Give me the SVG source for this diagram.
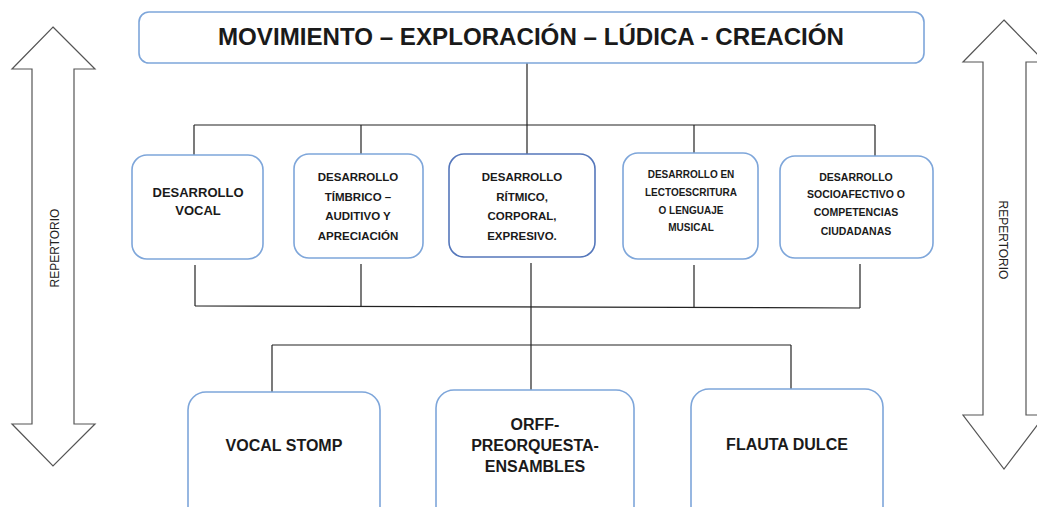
<svg xmlns="http://www.w3.org/2000/svg" width="1037" height="507" viewBox="0 0 1037 507">
<style>
.box{fill:#fff;stroke:#7ea6da;stroke-width:1.6}
.box3{fill:#fff;stroke:#5577bb;stroke-width:1.6}
.arrow{fill:#fff;stroke:#555;stroke-width:1.2}
.t{font-family:"Liberation Sans",Arial,sans-serif;font-weight:bold;fill:#1a1a1a;text-anchor:middle}
.rep{font-family:"Liberation Sans",Arial,sans-serif;font-size:12px;fill:#222;text-anchor:middle}
.con line{stroke:#222;stroke-width:1.2}
</style>
<rect width="1037" height="507" fill="#fff"/>
<g id="arrow-left">
<polygon class="arrow" points="53,27 95,69 74,69 74,424 95,424 53,466 12,424 32,424 32,69 12,69"/>
<text class="rep" transform="translate(59,248) rotate(-90)">REPERTORIO</text>
</g>
<g id="arrow-right">
<polygon class="arrow" points="1004,20 1045,62 1026,62 1026,415 1045,415 1004,469 963,415 983,415 983,62 963,62"/>
<text class="rep" transform="translate(999,240) rotate(90)">REPERTORIO</text>
</g>
<g class="con" id="connectors">
<line x1="527" y1="62" x2="527" y2="125"/>
<line x1="194" y1="125" x2="875" y2="125"/>
<line x1="194" y1="125" x2="194" y2="155"/>
<line x1="361" y1="125" x2="361" y2="155"/>
<line x1="527" y1="125" x2="527" y2="154"/>
<line x1="694" y1="125" x2="694" y2="154"/>
<line x1="875" y1="125" x2="875" y2="156"/>
<line x1="195" y1="265" x2="195" y2="306"/>
<line x1="361" y1="264" x2="361" y2="306"/>
<line x1="531" y1="263" x2="531" y2="392"/>
<line x1="694" y1="265" x2="694" y2="307"/>
<line x1="860" y1="264" x2="860" y2="308"/>
<line x1="195" y1="306" x2="860" y2="308"/>
<line x1="272" y1="345" x2="791" y2="345"/>
<line x1="272" y1="345" x2="272" y2="392"/>
<line x1="791" y1="345" x2="791" y2="390"/>
</g>
<g id="top">
<rect class="box" x="139" y="12" width="785" height="51" rx="10"/>
<text class="t" x="531" y="45" font-size="23" textLength="626" lengthAdjust="spacingAndGlyphs">MOVIMIENTO – EXPLORACIÓN – LÚDICA - CREACIÓN</text>
</g>
<g id="vocal">
<rect class="box" x="132" y="155" width="131" height="104" rx="15"/>
<text class="t" font-size="13" x="198" y="197">DESARROLLO</text>
<text class="t" font-size="13" x="198" y="215">VOCAL</text>
</g>
<g id="timbrico">
<rect class="box" x="294" y="154" width="129" height="104" rx="15"/>
<text class="t" font-size="11.5" x="358" y="181">DESARROLLO</text>
<text class="t" font-size="11.5" x="358" y="201">TÍMBRICO –</text>
<text class="t" font-size="11.5" x="358" y="220">AUDITIVO Y</text>
<text class="t" font-size="11.5" x="358" y="240">APRECIACIÓN</text>
</g>
<g id="ritmico">
<rect class="box3" x="449" y="154" width="146" height="103" rx="15"/>
<text class="t" font-size="11.5" x="522" y="181">DESARROLLO</text>
<text class="t" font-size="11.5" x="522" y="201">RÍTMICO,</text>
<text class="t" font-size="11.5" x="522" y="220">CORPORAL,</text>
<text class="t" font-size="11.5" x="522" y="240">EXPRESIVO.</text>
</g>
<g id="lectoescritura">
<rect class="box" x="623" y="153" width="135" height="106" rx="15"/>
<text class="t" font-size="10" x="691" y="178">DESARROLLO EN</text>
<text class="t" font-size="10" x="691" y="196">LECTOESCRITURA</text>
<text class="t" font-size="10" x="691" y="214">O LENGUAJE</text>
<text class="t" font-size="10" x="691" y="231">MUSICAL</text>
</g>
<g id="socioafectivo">
<rect class="box" x="780" y="156" width="153" height="102" rx="15"/>
<text class="t" font-size="10.5" x="856" y="181">DESARROLLO</text>
<text class="t" font-size="10.5" x="856" y="198">SOCIOAFECTIVO O</text>
<text class="t" font-size="10.5" x="856" y="216">COMPETENCIAS</text>
<text class="t" font-size="10.5" x="856" y="235">CIUDADANAS</text>
</g>
<g id="vocal-stomp">
<rect class="box" x="188" y="392" width="192" height="135" rx="18"/>
<text class="t" font-size="16" x="284" y="451">VOCAL STOMP</text>
</g>
<g id="orff">
<rect class="box" x="436" y="390" width="198" height="137" rx="18"/>
<text class="t" font-size="16" x="535" y="430">ORFF-</text>
<text class="t" font-size="16" x="535" y="451">PREORQUESTA-</text>
<text class="t" font-size="16" x="535" y="472">ENSAMBLES</text>
</g>
<g id="flauta">
<rect class="box" x="691" y="389" width="192" height="138" rx="18"/>
<text class="t" font-size="16" x="787" y="450">FLAUTA DULCE</text>
</g>
</svg>
